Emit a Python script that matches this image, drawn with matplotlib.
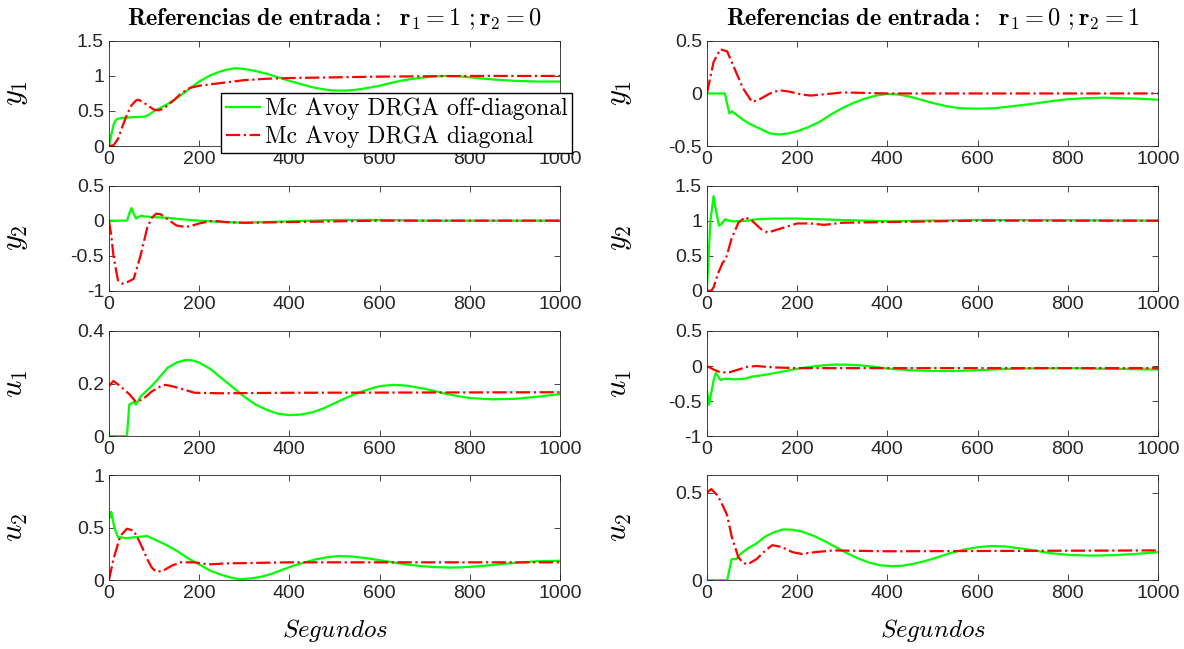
import numpy as np
import matplotlib.pyplot as plt

plt.rcParams['mathtext.fontset'] = 'cm'
plt.rcParams['font.family'] = ['Liberation Sans', 'DejaVu Sans']
plt.rcParams['axes.unicode_minus'] = False

# ---- r1 = 1, r2 = 0 ----
t_y1_off_a = [0, 5, 10, 15, 20, 30, 50, 80, 90, 100, 125, 150, 175, 200, 225, 250, 265, 280, 300, 325, 350, 375, 400, 425, 450, 475, 500, 525, 550, 575, 600, 625, 650, 675, 700, 725, 750, 775, 800, 850, 900, 950, 1000]
y1_off_a = [0, 0.15, 0.3, 0.37, 0.39, 0.40, 0.41, 0.42, 0.45, 0.50, 0.58, 0.68, 0.80, 0.92, 1.01, 1.07, 1.095, 1.11, 1.10, 1.07, 1.03, 0.98, 0.93, 0.885, 0.84, 0.81, 0.79, 0.79, 0.805, 0.83, 0.86, 0.90, 0.935, 0.96, 0.98, 0.995, 1.0, 0.995, 0.98, 0.95, 0.93, 0.92, 0.92]
t_y1_dia_a = [0, 10, 20, 30, 40, 50, 60, 65, 75, 90, 100, 110, 120, 130, 145, 160, 180, 200, 250, 300, 350, 400, 500, 600, 700, 800, 1000]
y1_dia_a = [0, 0.01, 0.1, 0.28, 0.45, 0.58, 0.65, 0.66, 0.63, 0.56, 0.52, 0.51, 0.53, 0.58, 0.66, 0.75, 0.83, 0.86, 0.90, 0.94, 0.96, 0.97, 0.98, 0.99, 0.995, 1.0, 1.0]

t_y2_off_a = [0, 40, 45, 50, 55, 60, 70, 80, 100, 130, 160, 200, 250, 300, 400, 500, 600, 700, 1000]
y2_off_a = [0, 0, 0.1, 0.18, 0.1, 0.03, 0.07, 0.06, 0.05, 0.04, 0.02, 0.0, -0.02, -0.03, -0.01, 0.01, 0.01, 0.0, 0.0]
t_y2_dia_a = [0, 5, 10, 20, 30, 40, 55, 70, 85, 95, 105, 115, 130, 150, 170, 185, 200, 230, 260, 300, 400, 500, 600, 1000]
y2_dia_a = [0, -0.2, -0.5, -0.85, -0.9, -0.88, -0.83, -0.5, -0.1, 0.04, 0.1, 0.09, 0.02, -0.07, -0.09, -0.07, -0.04, 0.0, -0.02, -0.03, -0.02, -0.01, 0.0, 0.0]

t_u1_off_a = [0, 40, 45, 55, 60, 70, 85, 100, 115, 130, 150, 170, 185, 200, 225, 250, 275, 300, 325, 350, 375, 400, 425, 450, 475, 500, 525, 550, 575, 600, 630, 660, 700, 725, 750, 775, 800, 850, 900, 950, 1000]
u1_off_a = [0, 0, 0.12, 0.13, 0.12, 0.15, 0.175, 0.20, 0.23, 0.26, 0.28, 0.29, 0.288, 0.28, 0.255, 0.22, 0.185, 0.15, 0.12, 0.10, 0.085, 0.08, 0.082, 0.09, 0.105, 0.125, 0.145, 0.163, 0.178, 0.19, 0.195, 0.192, 0.18, 0.17, 0.16, 0.152, 0.145, 0.14, 0.142, 0.15, 0.16]
t_u1_dia_a = [0, 10, 25, 45, 60, 75, 95, 115, 125, 140, 160, 190, 250, 400, 1000]
u1_dia_a = [0.19, 0.21, 0.19, 0.16, 0.13, 0.14, 0.17, 0.19, 0.195, 0.19, 0.18, 0.165, 0.163, 0.165, 0.167]

t_u2_off_a = [3, 5, 12, 20, 40, 60, 85, 100, 125, 150, 175, 200, 225, 250, 275, 290, 310, 335, 360, 385, 410, 435, 460, 485, 510, 540, 570, 600, 630, 660, 690, 720, 750, 780, 810, 850, 900, 950, 1000]
u2_off_a = [0.6, 0.65, 0.5, 0.41, 0.40, 0.41, 0.42, 0.39, 0.34, 0.28, 0.21, 0.15, 0.09, 0.05, 0.02, 0.01, 0.015, 0.03, 0.06, 0.10, 0.14, 0.17, 0.20, 0.22, 0.23, 0.225, 0.21, 0.19, 0.17, 0.15, 0.135, 0.125, 0.12, 0.122, 0.13, 0.145, 0.165, 0.18, 0.185]
t_u2_dia_a = [0, 10, 25, 40, 55, 65, 75, 85, 95, 105, 120, 140, 160, 190, 220, 260, 400, 1000]
u2_dia_a = [0, 0.2, 0.42, 0.49, 0.47, 0.39, 0.30, 0.2, 0.12, 0.08, 0.09, 0.14, 0.17, 0.17, 0.15, 0.16, 0.17, 0.17]

# ---- r1 = 0, r2 = 1 ----
t_y1_off_b = [0, 40, 45, 50, 55, 65, 80, 95, 110, 125, 140, 160, 180, 200, 225, 250, 275, 300, 325, 350, 375, 400, 425, 450, 475, 500, 530, 560, 600, 640, 680, 720, 760, 800, 840, 880, 920, 960, 1000]
y1_off_b = [0, 0, -0.1, -0.19, -0.17, -0.2, -0.25, -0.29, -0.32, -0.35, -0.38, -0.39, -0.38, -0.36, -0.32, -0.27, -0.2, -0.14, -0.09, -0.05, -0.02, -0.005, -0.01, -0.03, -0.06, -0.09, -0.12, -0.14, -0.145, -0.14, -0.12, -0.1, -0.075, -0.055, -0.045, -0.04, -0.045, -0.05, -0.06]
t_y1_dia_b = [0, 15, 30, 45, 60, 80, 100, 115, 140, 160, 180, 210, 230, 280, 300, 400, 1000]
y1_dia_b = [0, 0.3, 0.42, 0.40, 0.25, 0.05, -0.08, -0.06, 0.0, 0.03, 0.02, -0.01, -0.02, 0.0, 0.01, 0.0, 0.0]

t_y2_off_b = [0, 8, 15, 20, 27, 32, 40, 50, 60, 90, 110, 150, 200, 300, 400, 500, 600, 1000]
y2_off_b = [0, 1.0, 1.35, 1.15, 0.93, 0.95, 1.02, 1.0, 0.99, 1.0, 1.02, 1.03, 1.03, 1.01, 0.99, 1.0, 1.01, 1.0]
t_y2_dia_b = [0, 10, 15, 25, 35, 42, 55, 70, 85, 100, 120, 135, 160, 200, 230, 260, 300, 400, 600, 1000]
y2_dia_b = [0, 0.0, 0.05, 0.25, 0.40, 0.45, 0.75, 0.97, 1.05, 1.0, 0.88, 0.83, 0.88, 0.96, 0.96, 0.94, 0.97, 0.98, 1.0, 1.0]

t_u1_off_b = [0, 5, 15, 20, 30, 40, 60, 85, 100, 125, 150, 175, 200, 225, 250, 280, 310, 340, 370, 400, 450, 500, 550, 600, 650, 700, 800, 900, 1000]
u1_off_b = [-0.35, -0.55, -0.2, -0.1, -0.2, -0.18, -0.19, -0.18, -0.15, -0.13, -0.1, -0.07, -0.04, -0.015, 0.005, 0.02, 0.02, 0.01, -0.01, -0.035, -0.06, -0.07, -0.07, -0.06, -0.045, -0.035, -0.03, -0.04, -0.05]
t_u1_dia_b = [0, 15, 30, 50, 70, 90, 110, 150, 200, 1000]
u1_dia_b = [0.0, -0.05, -0.09, -0.09, -0.05, -0.01, 0.0, -0.02, -0.03, -0.03]

t_u2_off_b = [0, 45, 55, 65, 75, 90, 110, 130, 150, 170, 190, 210, 235, 260, 285, 310, 335, 360, 385, 410, 435, 460, 485, 510, 540, 570, 600, 630, 660, 700, 730, 760, 800, 850, 900, 950, 1000]
u2_off_b = [0, 0, 0.12, 0.12, 0.15, 0.18, 0.21, 0.25, 0.275, 0.29, 0.288, 0.278, 0.255, 0.225, 0.19, 0.155, 0.125, 0.10, 0.085, 0.08, 0.083, 0.095, 0.11, 0.13, 0.155, 0.175, 0.188, 0.195, 0.193, 0.18, 0.168, 0.155, 0.145, 0.14, 0.143, 0.15, 0.16]
t_u2_dia_b = [0, 10, 25, 40, 45, 55, 70, 80, 90, 110, 130, 145, 165, 190, 210, 240, 280, 400, 1000]
u2_dia_b = [0.5, 0.52, 0.48, 0.40, 0.37, 0.25, 0.13, 0.10, 0.09, 0.12, 0.17, 0.20, 0.19, 0.16, 0.15, 0.16, 0.17, 0.165, 0.17]

panels_a = [(t_y1_off_a, y1_off_a, t_y1_dia_a, y1_dia_a, (0, 1.5), [0, 0.5, 1, 1.5], ['0', '0.5', '1', '1.5']),
            (t_y2_off_a, y2_off_a, t_y2_dia_a, y2_dia_a, (-1, 0.5), [-1, -0.5, 0, 0.5], ['-1', '-0.5', '0', '0.5']),
            (t_u1_off_a, u1_off_a, t_u1_dia_a, u1_dia_a, (0, 0.4), [0, 0.2, 0.4], ['0', '0.2', '0.4']),
            (t_u2_off_a, u2_off_a, t_u2_dia_a, u2_dia_a, (0, 1), [0, 0.5, 1], ['0', '0.5', '1'])]
panels_b = [(t_y1_off_b, y1_off_b, t_y1_dia_b, y1_dia_b, (-0.5, 0.5), [-0.5, 0, 0.5], ['-0.5', '0', '0.5']),
            (t_y2_off_b, y2_off_b, t_y2_dia_b, y2_dia_b, (0, 1.5), [0, 0.5, 1, 1.5], ['0', '0.5', '1', '1.5']),
            (t_u1_off_b, u1_off_b, t_u1_dia_b, u1_dia_b, (-1, 0.5), [-1, -0.5, 0, 0.5], ['-1', '-0.5', '0', '0.5']),
            (t_u2_off_b, u2_off_b, t_u2_dia_b, u2_dia_b, (0, 0.6), [0, 0.5], ['0', '0.5'])]
ylabels = [r'$y_1$', r'$y_2$', r'$u_1$', r'$u_2$']
titles = [r'$\mathbf{Referencias\ de\ entrada:\ \ r_1=1\ ;r_2=0}$',
          r'$\mathbf{Referencias\ de\ entrada:\ \ r_1=0\ ;r_2=1}$']

fig = plt.figure(figsize=(11.84, 6.49), dpi=100)
lefts = [0.092, 0.597]
label_x = [-0.175, -0.162]
bottoms = [0.775, 0.552, 0.328, 0.106]
tick_col = '#262626'

for c, panels in enumerate([panels_a, panels_b]):
    for r, (to, yo, td, yd, ylim, yt, ytl) in enumerate(panels):
        ax = fig.add_axes([lefts[c], bottoms[r], 0.381, 0.162])
        ax.plot(to, yo, color=(0, 1, 0), lw=1.6, label='Mc Avoy DRGA off-diagonal')
        ax.plot(td, yd, color=(1, 0, 0), lw=1.6, ls='-.', label='Mc Avoy DRGA diagonal')
        ax.set_xlim(0, 1000)
        ax.set_ylim(*ylim)
        ax.set_xticks(range(0, 1001, 200))
        ax.set_yticks(yt)
        ax.set_yticklabels(ytl)
        ax.tick_params(direction='in', top=True, right=True, labelsize=14,
                       colors=tick_col, length=4, width=0.6)
        for s in ax.spines.values():
            s.set_color(tick_col)
            s.set_linewidth(0.6)
        ax.set_ylabel(ylabels[r], fontsize=22, color='black')
        ax.yaxis.set_label_coords(label_x[c], 0.5)
        if r == 0:
            ax.set_title(titles[c], fontsize=17.5, pad=11)
            if c == 0:
                ax.legend(loc='lower right', bbox_to_anchor=(1.027, -0.067),
                          prop={'family': 'cmr10', 'size': 17}, frameon=True,
                          fancybox=False, edgecolor='black', framealpha=1,
                          borderpad=0.2, labelspacing=0.25, handlelength=1.45,
                          handletextpad=0.2, borderaxespad=0)
        if r == 3:
            ax.set_xlabel(r'$Segundos$', fontsize=18, labelpad=11)

fig.savefig('out.png', dpi=100)
